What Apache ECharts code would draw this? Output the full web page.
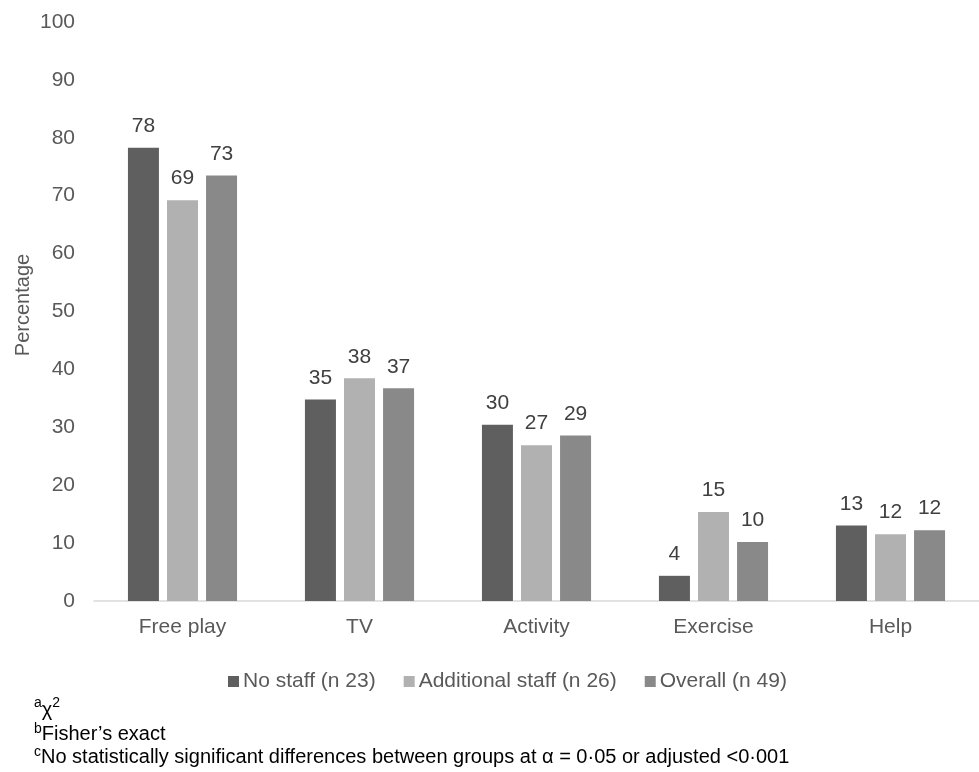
<!DOCTYPE html>
<html>
<head>
<meta charset="utf-8">
<script src="https://cdn.jsdelivr.net/npm/echarts@6/dist/echarts.min.js"></script>
<style>
html,body{margin:0;padding:0;background:#fff;}
#chart{width:979px;height:772px;}
</style>
</head>
<body>
<div id="chart"></div>
<script>
var categories = ['Free play', 'TV', 'Activity', 'Exercise', 'Help'];
var seriesNames = ['No staff (n 23)', 'Additional staff (n 26)', 'Overall (n 49)'];
var noStaff = [78.26, 34.78, 30.43, 4.35, 13.04];
var additionalStaff = [69.23, 38.46, 26.92, 15.38, 11.54];
var overall = [73.47, 36.73, 28.57, 10.20, 12.24];
var yTicks = [0, 10, 20, 30, 40, 50, 60, 70, 80, 90, 100];
var colors = ['#5f5f5f', '#b1b1b1', '#898989'];

var FONT = 'Liberation Sans, Arial, sans-serif';
var chart = echarts.init(document.getElementById('chart'), null, {renderer: 'canvas'});

function mkSeries(name, data, color) {
  return {
    name: name,
    type: 'bar',
    data: data,
    barWidth: 31,
    barGap: '26%',
    itemStyle: {color: color},
    label: {
      show: true,
      position: 'top',
      distance: 11,
      color: '#404040',
      fontSize: 21,
      fontFamily: FONT,
      formatter: function (p) { return Math.round(p.value); }
    },
    emphasis: {disabled: true}
  };
}

var option = {
  animation: false,
  textStyle: {fontFamily: FONT},
  grid: {left: 94, top: 22, width: 897, bottom: 171, containLabel: false},
  legend: {
    left: 223,
    top: 666,
    itemWidth: 11,
    itemHeight: 11,
    itemGap: 28,
    icon: 'rect',
    selectedMode: false,
    textStyle: {color: '#595959', fontSize: 21, fontFamily: FONT, padding: [0, 0, 0, -1]},
    data: seriesNames
  },
  xAxis: {
    type: 'category',
    data: categories,
    axisLine: {show: true, lineStyle: {color: '#d9d9d9', width: 1.5}},
    axisTick: {show: false},
    axisLabel: {color: '#595959', fontSize: 21, fontFamily: FONT, margin: 16},
    splitLine: {show: false}
  },
  yAxis: {
    type: 'value',
    min: yTicks[0],
    max: yTicks[yTicks.length - 1],
    interval: yTicks[1] - yTicks[0],
    axisLine: {show: false},
    axisTick: {show: false},
    splitLine: {show: false},
    axisLabel: {color: '#595959', fontSize: 21, fontFamily: FONT, margin: 19}
  },
  series: [
    mkSeries(seriesNames[0], noStaff, colors[0]),
    mkSeries(seriesNames[1], additionalStaff, colors[1]),
    mkSeries(seriesNames[2], overall, colors[2])
  ],
  graphic: [
    {
      type: 'text',
      x: 23, y: 305,
      rotation: Math.PI / 2,
      style: {text: 'Percentage', fill: '#595959', font: '20px ' + FONT, align: 'center', verticalAlign: 'middle'}
    },
    {
      type: 'text',
      x: 34, y: 708,
      style: {
        text: '{s|a}{n|χ}{s|2}',
        verticalAlign: 'middle',
        rich: {
          s: {fontSize: 14, fontFamily: FONT, fill: '#000', verticalAlign: 'top', lineHeight: 15},
          n: {fontSize: 20, fontFamily: FONT, fill: '#000', lineHeight: 24, verticalAlign: 'bottom'}
        }
      }
    },
    {
      type: 'text',
      x: 34, y: 734,
      style: {
        text: '{s|b}{n|Fisher’s exact}',
        verticalAlign: 'middle',
        rich: {
          s: {fontSize: 14, fontFamily: FONT, fill: '#000', verticalAlign: 'top', lineHeight: 15},
          n: {fontSize: 20, fontFamily: FONT, fill: '#000', lineHeight: 24}
        }
      }
    },
    {
      type: 'text',
      x: 34, y: 757,
      style: {
        text: '{s|c}{n|No statistically significant differences between groups at α = 0·05 or adjusted <0·001}',
        verticalAlign: 'middle',
        rich: {
          s: {fontSize: 14, fontFamily: FONT, fill: '#000', verticalAlign: 'top', lineHeight: 15},
          n: {fontSize: 20, fontFamily: FONT, fill: '#000', lineHeight: 24}
        }
      }
    }
  ]
};
chart.setOption(option);
</script>
</body>
</html>
